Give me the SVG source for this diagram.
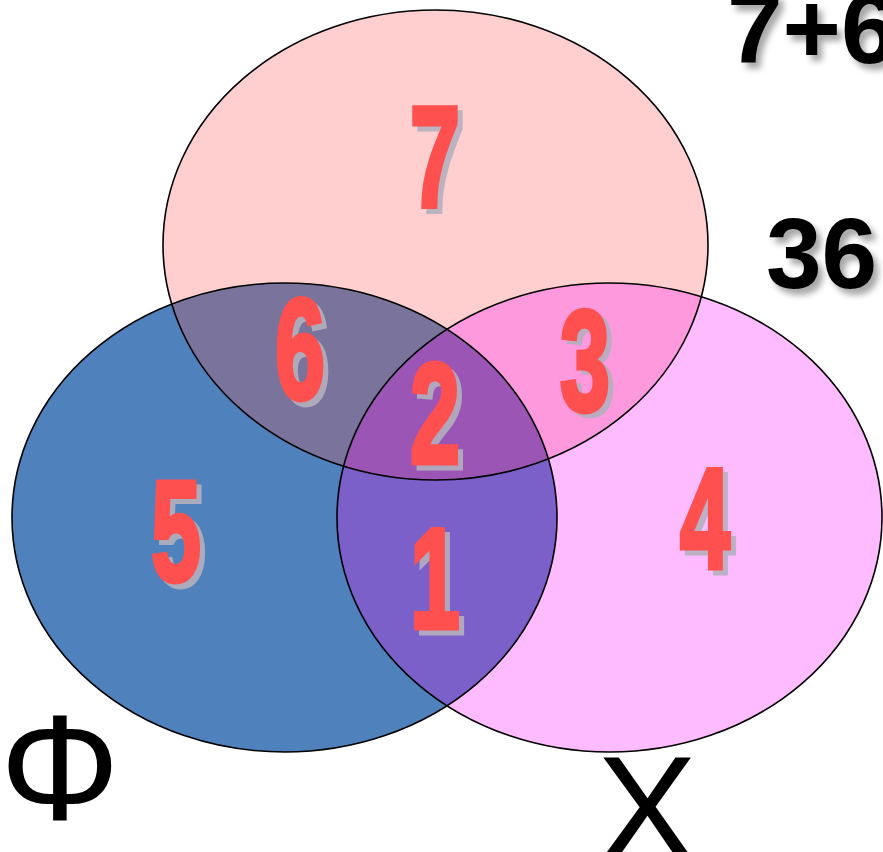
<svg xmlns="http://www.w3.org/2000/svg" width="883" height="852" viewBox="0 0 883 852">
<defs>
<style>
.num{font-family:"Liberation Sans",Arial,sans-serif;font-weight:bold;font-size:143px;text-anchor:middle;fill:#FF5050;stroke:#FF5050;stroke-width:5;stroke-linejoin:miter}
.sh{font-family:"Liberation Sans",Arial,sans-serif;font-weight:bold;font-size:143px;text-anchor:middle;fill:#B4B0BE;stroke:#B4B0BE;stroke-width:5;opacity:0.9}
.big{font-family:"Liberation Sans",Arial,sans-serif;font-weight:bold;font-size:100px;fill:#000}
.lbl{font-family:"Liberation Sans",Arial,sans-serif;font-size:150px;fill:#000}
.ol{fill:none;stroke:#000;stroke-width:1.6}
</style>
<ellipse id="eB" cx="284.5" cy="517.5" rx="272.5" ry="234.5"/>
<ellipse id="eT" cx="435.5" cy="245" rx="272.5" ry="235"/>
<ellipse id="eM" cx="609.5" cy="517.5" rx="272.5" ry="234.5"/>
<clipPath id="cB"><use href="#eB"/></clipPath>
<clipPath id="cT"><use href="#eT"/></clipPath>
<filter id="ds" x="-20%" y="-20%" width="150%" height="150%"><feDropShadow dx="5" dy="6" stdDeviation="3" flood-color="#000" flood-opacity="0.35"/></filter>
</defs>
<rect width="883" height="852" fill="#fff"/>
<g id="set-blue"><use href="#eB" fill="#4F81BD"/></g>
<g id="set-top"><use href="#eT" fill="#FFCFCF"/>
<g clip-path="url(#cB)"><use href="#eT" fill="#7A739C"/></g></g>
<g id="set-magenta"><use href="#eM" fill="#FFBBFF"/>
<g clip-path="url(#cB)"><use href="#eM" fill="#7B60CA"/></g>
<g clip-path="url(#cT)"><use href="#eM" fill="#FF99DD"/>
<g clip-path="url(#cB)"><use href="#eM" fill="#9B55B5"/></g></g></g>
<g id="outlines"><use href="#eB" class="ol"/><use href="#eT" class="ol"/><use href="#eM" class="ol"/></g>
<g id="numbers">
<g id="n7"><text class="sh" x="440" y="211" textLength="50" lengthAdjust="spacingAndGlyphs">7</text><text class="num" x="435" y="206" textLength="50" lengthAdjust="spacingAndGlyphs">7</text></g>
<g id="n6"><text class="sh" x="305" y="404" textLength="50" lengthAdjust="spacingAndGlyphs">6</text><text class="num" x="300" y="399" textLength="50" lengthAdjust="spacingAndGlyphs">6</text></g>
<g id="n2"><text class="sh" x="440" y="468" textLength="50" lengthAdjust="spacingAndGlyphs">2</text><text class="num" x="435" y="463" textLength="50" lengthAdjust="spacingAndGlyphs">2</text></g>
<g id="n3"><text class="sh" x="590" y="414" textLength="50" lengthAdjust="spacingAndGlyphs">3</text><text class="num" x="585" y="410" textLength="50" lengthAdjust="spacingAndGlyphs">3</text></g>
<g id="n5"><text class="sh" x="181" y="586" textLength="50" lengthAdjust="spacingAndGlyphs">5</text><text class="num" x="176" y="581" textLength="50" lengthAdjust="spacingAndGlyphs">5</text></g>
<g id="n1"><text class="sh" x="440" y="633" textLength="50" lengthAdjust="spacingAndGlyphs">1</text><text class="num" x="435" y="628" textLength="50" lengthAdjust="spacingAndGlyphs">1</text></g>
<g id="n4"><text class="sh" x="710" y="573" textLength="50" lengthAdjust="spacingAndGlyphs">4</text><text class="num" x="705" y="568" textLength="50" lengthAdjust="spacingAndGlyphs">4</text></g>
</g>
<g id="sum" filter="url(#ds)"><text class="big" x="727" y="63">7+6</text><text class="big" x="766" y="288">36</text></g>
<g id="labels"><text class="lbl" x="0" y="820" font-size="156">Φ</text><text class="lbl" x="597" y="861">X</text></g>
</svg>
